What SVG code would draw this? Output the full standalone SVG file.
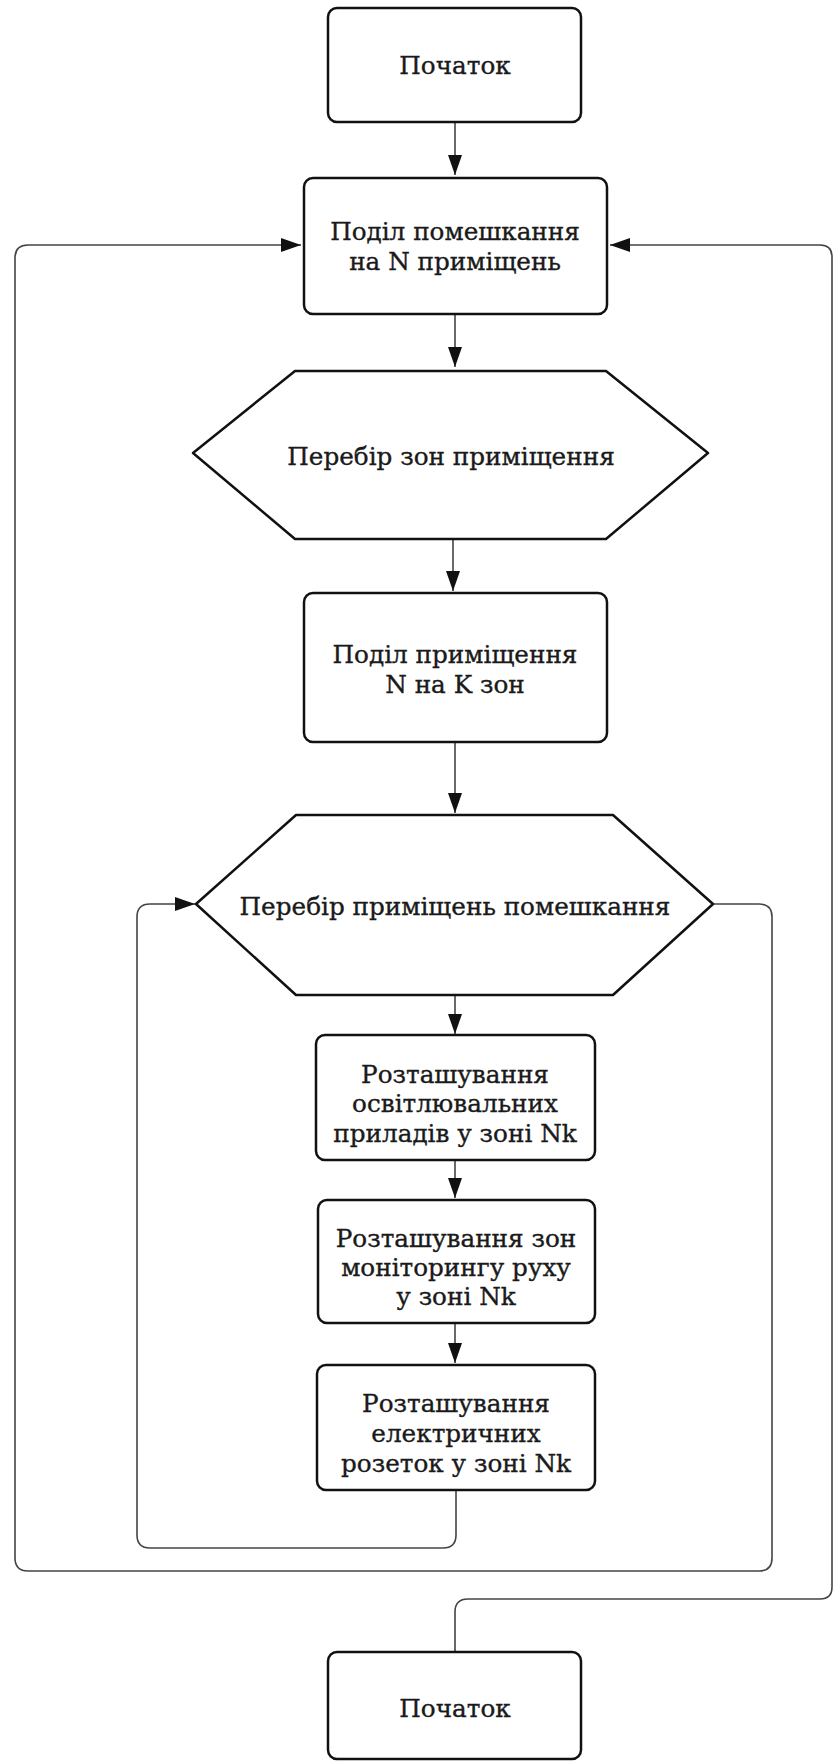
<svg xmlns="http://www.w3.org/2000/svg" width="835" height="1762" viewBox="0 0 835 1762">
<style>
.box{fill:#fff;stroke:#111;stroke-width:2.5;stroke-linejoin:round}
.t{font-family:"DejaVu Serif","Liberation Serif",serif;font-size:24.7px;fill:#1a1a1a;stroke:#1a1a1a;stroke-width:0.35;text-anchor:middle}
.c{fill:none;stroke:#444;stroke-width:1.6}
</style>
<defs>
<marker id="ah" viewBox="0 0 20 14" refX="20" refY="7" markerWidth="20" markerHeight="14" markerUnits="userSpaceOnUse" orient="auto">
<path d="M0,0 L20,7 L0,14 Z" fill="#111"/>
</marker>
</defs>
<rect width="835" height="1762" fill="#fff"/>
<g id="connectors">
<path class="c" d="M455,122 V175" marker-end="url(#ah)"/>
<path class="c" d="M455,314 V367" marker-end="url(#ah)"/>
<path class="c" d="M453,539 V591" marker-end="url(#ah)"/>
<path class="c" d="M455,742 V813" marker-end="url(#ah)"/>
<path class="c" d="M455,995 V1034" marker-end="url(#ah)"/>
<path class="c" d="M455,1160 V1198" marker-end="url(#ah)"/>
<path class="c" d="M455,1323 V1363" marker-end="url(#ah)"/>
<path class="c" d="M456,1490 V1535 Q456,1548 443,1548 H150 Q137,1548 137,1535 V917 Q137,904 150,904 H195" marker-end="url(#ah)"/>
<path class="c" d="M713,904 H759 Q772,904 772,917 V1558 Q772,1571 759,1571 H28 Q15,1571 15,1558 V258 Q15,245 28,245 H301" marker-end="url(#ah)"/>
<path class="c" d="M455,1652 V1612 Q455,1599 468,1599 H820 Q832,1599 832,1587 V257 Q832,245 820,245 H610" marker-end="url(#ah)"/>
</g>
<g id="start">
<rect class="box" x="328" y="8" width="253" height="114" rx="9"/>
<text class="t" x="455" y="74">Початок</text>
</g>
<g id="split-flat">
<rect class="box" x="304" y="178" width="303" height="136" rx="9"/>
<text class="t" x="455" y="240">Поділ помешкання</text>
<text class="t" x="455" y="270">на N приміщень</text>
</g>
<g id="loop-zones">
<path class="box" d="M193,453 L295,371 H606 L708,453 L606,539 H295 Z"/>
<text class="t" x="451" y="465">Перебір зон приміщення</text>
</g>
<g id="split-room">
<rect class="box" x="304" y="593" width="303" height="149" rx="9"/>
<text class="t" x="455" y="663">Поділ приміщення</text>
<text class="t" x="455" y="693">N на K зон</text>
</g>
<g id="loop-rooms">
<path class="box" d="M196,904 L296,815 H613 L713,904 L613,995 H296 Z"/>
<text class="t" x="455" y="915">Перебір приміщень помешкання</text>
</g>
<g id="lights">
<rect class="box" x="316" y="1035" width="279" height="125" rx="9"/>
<text class="t" x="455" y="1083">Розташування</text>
<text class="t" x="455" y="1112">освітлювальних</text>
<text class="t" x="455" y="1142">приладів у зоні Nk</text>
</g>
<g id="motion">
<rect class="box" x="318" y="1200" width="277" height="123" rx="9"/>
<text class="t" x="456" y="1247">Розташування зон</text>
<text class="t" x="456" y="1276">моніторингу руху</text>
<text class="t" x="456" y="1305">у зоні Nk</text>
</g>
<g id="sockets">
<rect class="box" x="317" y="1365" width="278" height="125" rx="9"/>
<text class="t" x="456" y="1412">Розташування</text>
<text class="t" x="456" y="1442">електричних</text>
<text class="t" x="456" y="1472">розеток у зоні Nk</text>
</g>
<g id="end">
<rect class="box" x="328" y="1652" width="253" height="107" rx="9"/>
<text class="t" x="455" y="1717">Початок</text>
</g>
</svg>
